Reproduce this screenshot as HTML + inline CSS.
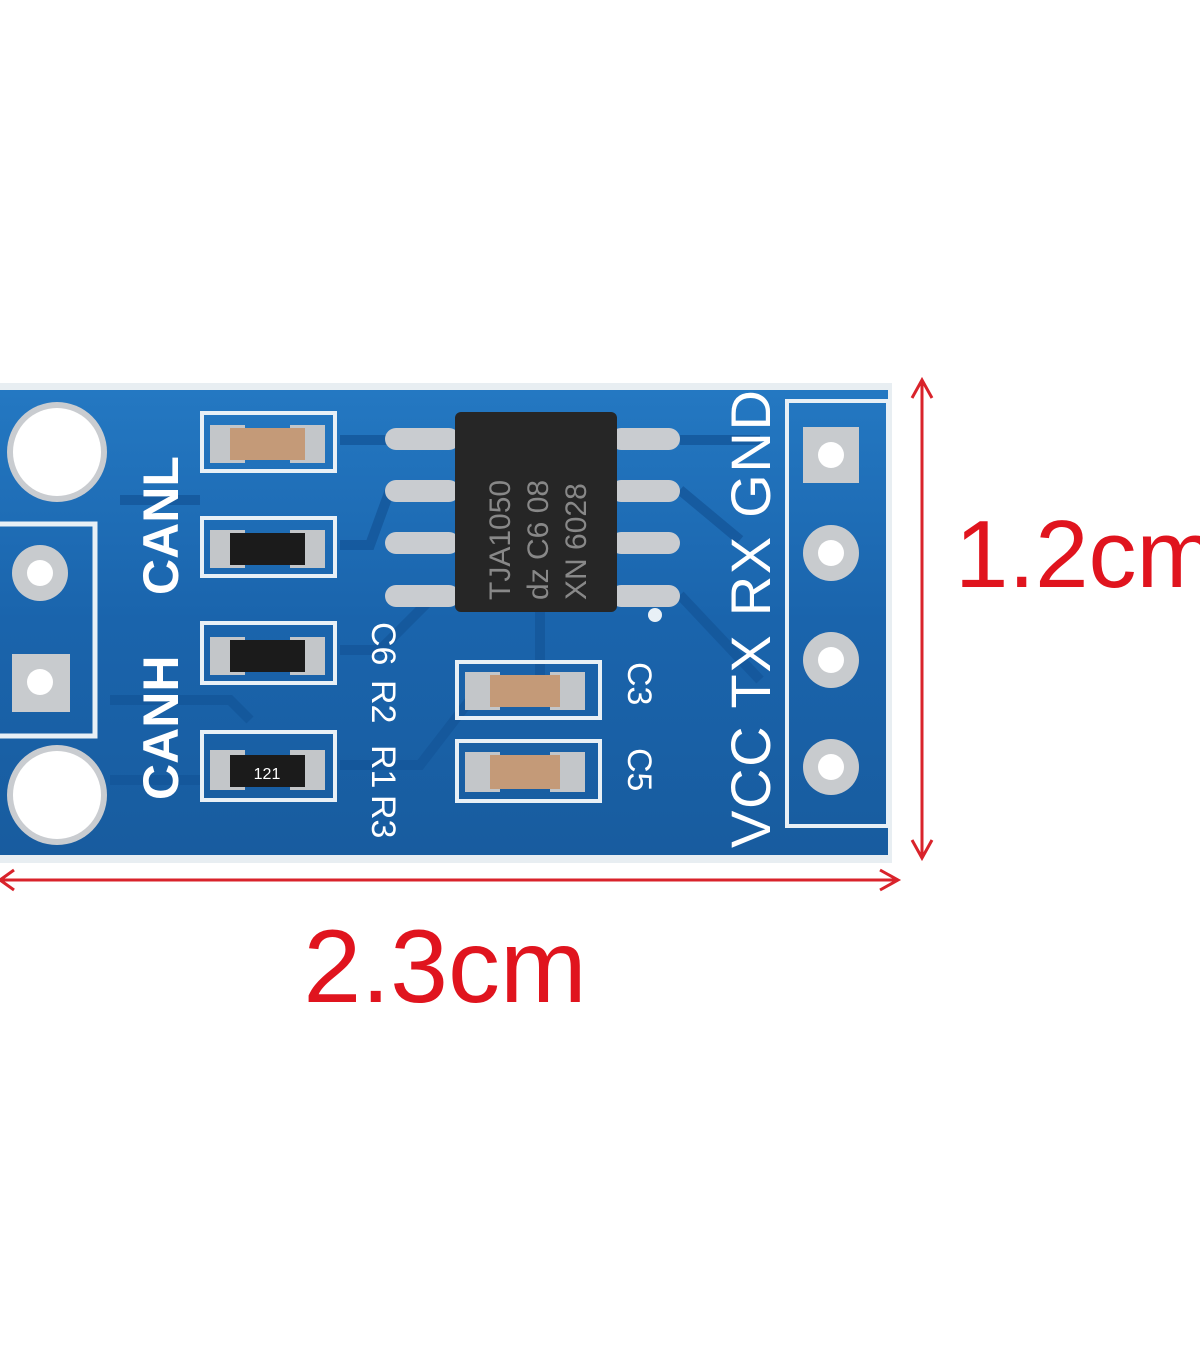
<!DOCTYPE html>
<html><head><meta charset="utf-8"><style>
html,body{margin:0;padding:0;background:#fff;width:1200px;height:1372px;overflow:hidden}
svg{display:block}
text{font-family:"Liberation Sans",sans-serif}
</style></head><body>
<svg width="1200" height="1372" viewBox="0 0 1200 1372" xmlns="http://www.w3.org/2000/svg">
<defs>
<linearGradient id="b" x1="0" y1="0" x2="0" y2="1">
<stop offset="0" stop-color="#2478c2"/><stop offset="0.5" stop-color="#1a64ac"/><stop offset="1" stop-color="#185c9f"/>
</linearGradient>
</defs>
<rect x="0" y="383" width="892" height="480" fill="#e8eef2"/>
<rect x="0" y="390" width="888" height="465" fill="url(#b)"/>
<g stroke="#14569a" stroke-width="10" fill="none" opacity="0.8">
<path d="M120 500 L200 500 M340 440 L390 440 M340 545 L370 545 L390 490 M340 650 L380 650 L430 600 M340 765 L420 765 L470 700 M680 440 L760 440 M680 490 L740 540 M680 595 L760 680 M540 612 L540 700"/>
<path d="M110 780 L200 780 M110 700 L230 700 L250 720"/>
</g>
<circle cx="57" cy="452" r="50" fill="#c9ccd0"/><circle cx="57" cy="452" r="44" fill="#fff"/>
<circle cx="57" cy="795" r="50" fill="#c9ccd0"/><circle cx="57" cy="795" r="44" fill="#fff"/>
<rect x="-5" y="524" width="100" height="212" fill="none" stroke="#e8f0f6" stroke-width="5"/>
<circle cx="40" cy="573" r="28" fill="#c8cbce"/><circle cx="40" cy="573" r="13" fill="#fff"/>
<rect x="12" y="654" width="58" height="58" fill="#c8cbce"/><circle cx="40" cy="682" r="13" fill="#fff"/>
<text transform="translate(178,595) rotate(-90)" font-size="50" font-weight="bold" fill="#fff">CANL</text>
<text transform="translate(178,800) rotate(-90)" font-size="50" font-weight="bold" fill="#fff">CANH</text>
<g stroke="#e8f0f6" stroke-width="4" fill="none">
<rect x="202" y="413" width="133" height="58"/><rect x="202" y="518" width="133" height="58"/>
<rect x="202" y="623" width="133" height="60"/><rect x="202" y="732" width="133" height="68"/>
<rect x="457" y="662" width="143" height="56"/><rect x="457" y="741" width="143" height="60"/>
<rect x="787" y="401" width="101" height="425"/>
</g>
<g fill="#c3c6c9">
<rect x="210" y="425" width="35" height="38"/><rect x="290" y="425" width="35" height="38"/>
<rect x="210" y="530" width="35" height="38"/><rect x="290" y="530" width="35" height="38"/>
<rect x="210" y="637" width="35" height="38"/><rect x="290" y="637" width="35" height="38"/>
<rect x="210" y="750" width="35" height="40"/><rect x="290" y="750" width="35" height="40"/>
<rect x="465" y="672" width="35" height="38"/><rect x="550" y="672" width="35" height="38"/>
<rect x="465" y="752" width="35" height="40"/><rect x="550" y="752" width="35" height="40"/>
</g>
<rect x="230" y="428" width="75" height="32" fill="#c49a78"/>
<rect x="230" y="533" width="75" height="32" fill="#1b1b1b"/>
<rect x="230" y="640" width="75" height="32" fill="#1b1b1b"/>
<rect x="230" y="755" width="75" height="32" fill="#1b1b1b"/>
<text x="267" y="779" font-size="16" fill="#fff" text-anchor="middle">121</text>
<rect x="490" y="675" width="70" height="32" fill="#c49a78"/>
<rect x="490" y="755" width="70" height="34" fill="#c49a78"/>
<g fill="#c9ccd0">
<rect x="385" y="428" width="75" height="22" rx="11"/><rect x="385" y="480" width="75" height="22" rx="11"/>
<rect x="385" y="532" width="75" height="22" rx="11"/><rect x="385" y="585" width="75" height="22" rx="11"/>
<rect x="610" y="428" width="70" height="22" rx="11"/><rect x="610" y="480" width="70" height="22" rx="11"/>
<rect x="610" y="532" width="70" height="22" rx="11"/><rect x="610" y="585" width="70" height="22" rx="11"/>
</g>
<rect x="455" y="412" width="162" height="200" rx="6" fill="#262626"/>
<g fill="#888" font-size="30" font-family="Liberation Mono,monospace">
<text transform="translate(510,600) rotate(-90)">TJA1050</text>
<text transform="translate(548,600) rotate(-90)">dz C6 08</text>
<text transform="translate(586,600) rotate(-90)">XN 6028</text>
</g>
<circle cx="655" cy="615" r="7" fill="#e8f0f6"/>
<g font-size="34" fill="#fff">
<text transform="translate(372,622) rotate(90)">C6</text>
<text transform="translate(372,680) rotate(90)">R2</text>
<text transform="translate(372,745) rotate(90)">R1</text>
<text transform="translate(372,795) rotate(90)">R3</text>
<text transform="translate(628,662) rotate(90)">C3</text>
<text transform="translate(628,748) rotate(90)">C5</text>
</g>
<text transform="translate(770,848) rotate(-90)" font-size="56" fill="#fff" textLength="458">VCC  TX  RX  GND</text>
<rect x="803" y="427" width="56" height="56" fill="#c8cbce"/><circle cx="831" cy="455" r="13" fill="#fff"/>
<circle cx="831" cy="553" r="28" fill="#c8cbce"/><circle cx="831" cy="553" r="13" fill="#fff"/>
<circle cx="831" cy="660" r="28" fill="#c8cbce"/><circle cx="831" cy="660" r="13" fill="#fff"/>
<circle cx="831" cy="767" r="28" fill="#c8cbce"/><circle cx="831" cy="767" r="13" fill="#fff"/>
<g stroke="#d9232b" stroke-width="3" fill="none">
<line x1="922" y1="382" x2="922" y2="856"/>
<path d="M912 398 L922 380 L932 398 M912 840 L922 858 L932 840"/>
<line x1="0" y1="880" x2="896" y2="880"/>
<path d="M880 870 L898 880 L880 890 M14 870 L0 880 L14 890"/>
</g>
<text x="955" y="587" font-size="96" fill="#e0141e">1.2cm</text>
<text x="445" y="1002" font-size="104" fill="#e0141e" text-anchor="middle">2.3cm</text>
</svg>
</body></html>
